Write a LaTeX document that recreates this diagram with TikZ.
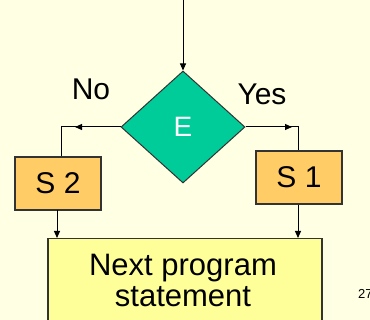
\documentclass[tikz,border=0pt]{standalone}
\usepackage{fontspec}
\setmainfont{Liberation Sans}
\usetikzlibrary{shapes.geometric,arrows.meta}
\definecolor{bgc}{HTML}{FFFFE3}
\definecolor{diac}{HTML}{00CC99}
\definecolor{boxc}{HTML}{FFCC66}
\definecolor{nextc}{HTML}{FFFF99}
\tikzset{
  conn/.style={line width=1pt, black},
  tip/.style={-{Triangle[length=7pt,width=6pt]}},
  sbox/.style={draw=black!80, line width=1.2pt, fill=boxc, minimum width=86pt, minimum height=53pt, inner sep=0pt, font=\fontsize{30}{36}\selectfont},
  lbl/.style={font=\fontsize{30}{36}\selectfont, inner sep=0pt}
}
\begin{document}
\begin{tikzpicture}[x=1pt,y=-1pt]
\useasboundingbox (0,0) rectangle (370,320);
\clip (0,0) rectangle (370,320);
\fill[bgc] (0,0) rectangle (370,320);
% nodes
\node[diamond, draw=black!80, line width=1pt, fill=diac, minimum width=124pt, minimum height=112pt, inner sep=0pt, text=white, font=\fontsize{28}{34}\selectfont] (E) at (183,127) {E};
\node[sbox] (S2) at (58,183.5) {S 2};
\node[sbox] (S1) at (299,177.5) {S 1};
\node[draw=black!80, line width=1.2pt, fill=nextc, minimum width=274pt, minimum height=100pt, inner sep=0pt, anchor=north] (N) at (185,238) {};
\node[font=\fontsize{31}{31}\selectfont, align=center, inner sep=0pt, anchor=base] (t1) at (183,276) {Next program};
\node[font=\fontsize{31}{31}\selectfont, align=center, inner sep=0pt, anchor=base] (t2) at (183,307) {statement};
\node[lbl, anchor=base] (no) at (91,100) {No};
\node[lbl, anchor=base] (yes) at (262,105) {Yes};
\node[font=\fontsize{13}{13}\selectfont, anchor=base west, inner sep=0pt] (pg) at (358,299) {27};
% connectors
\coordinate (top) at (183,0);
\draw[conn, tip] (top) -- (E.north);
\coordinate (cL) at (61,127);
\coordinate (aL) at (75,127);
\draw[conn] (E.west) -- (cL) -- (cL |- S2.north);
\draw[conn, tip] (E.west) -- (aL);
\coordinate (cR) at (298,127);
\coordinate (aR) at (292,127);
\draw[conn] (E.east) -- (cR) -- (cR |- S1.north);
\draw[conn, tip] (E.east) -- (aR);
\coordinate (b2) at (57,210);
\draw[conn, tip] (b2) -- (b2 |- N.north);
\draw[conn, tip] (S1.south -| cR) -- (cR |- N.north);
\end{tikzpicture}
\end{document}
